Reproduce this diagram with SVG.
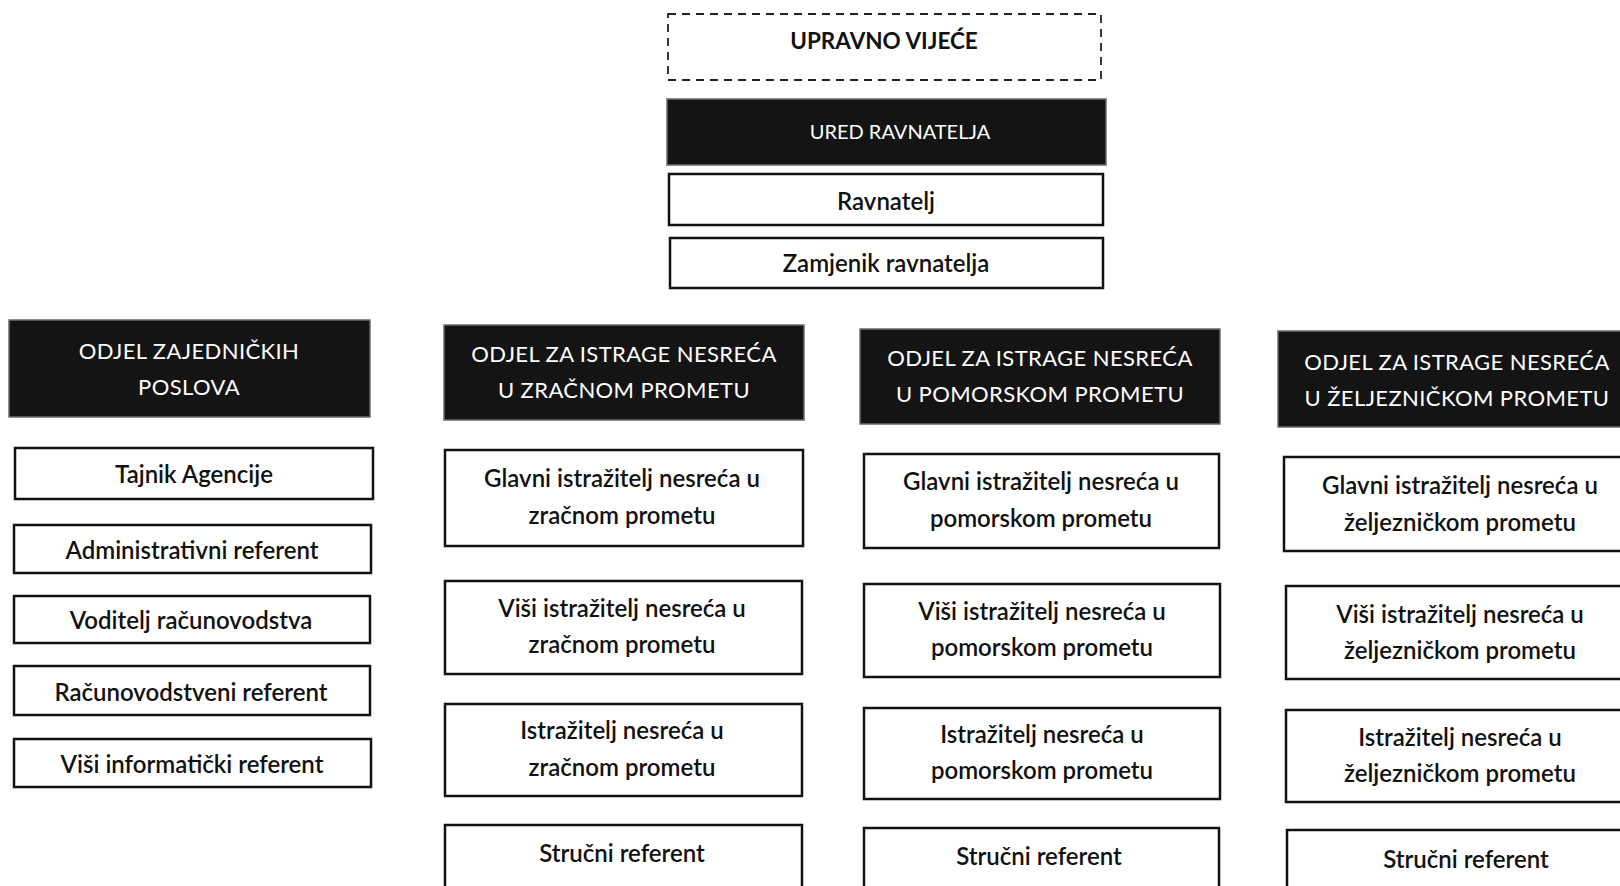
<svg xmlns="http://www.w3.org/2000/svg" width="1620" height="886" viewBox="0 0 1620 886">
<style>
  .box { fill: #fff; stroke: #111; stroke-width: 2.5; }
  .hdr { fill: #141414; stroke: #6a6a6a; stroke-width: 1.5; }
  .dash { fill: #fff; stroke: #222; stroke-width: 1.8; stroke-dasharray: 8 6; }
  .t { font-family: Lato, "Liberation Sans", sans-serif; font-size: 24px; fill: #111; text-anchor: middle; font-weight: 600; }
  .h { font-family: Lato, "Liberation Sans", sans-serif; font-size: 22px; fill: #fff; text-anchor: middle; font-weight: 400; letter-spacing: 0.4px; }
  .b { font-weight: 700; font-size: 22.5px; }
</style>
<rect width="1620" height="886" fill="#fff"/>
<g id="connectors"></g>

<g id="upravno-vijece">
  <rect class="dash" x="668" y="14" width="433" height="66"/>
  <text class="t b" x="884" y="49">UPRAVNO VIJEĆE</text>
</g>
<g id="ured-ravnatelja">
  <rect class="hdr" x="667" y="99" width="439" height="66"/>
  <text class="h" x="900" y="139" style="font-size:20px;letter-spacing:0">URED RAVNATELJA</text>
</g>
<g id="ravnatelj">
  <rect class="box" x="669" y="174" width="434" height="51"/>
  <text class="t" x="886" y="210">Ravnatelj</text>
</g>
<g id="zamjenik">
  <rect class="box" x="670" y="238" width="433" height="50"/>
  <text class="t" x="886" y="272">Zamjenik ravnatelja</text>
</g>

<!-- Column 1 -->
<g id="odjel-zajednickih">
  <rect class="hdr" x="9" y="320" width="361" height="97"/>
  <text class="h" x="189" y="359">ODJEL ZAJEDNIČKIH</text>
  <text class="h" x="189" y="395">POSLOVA</text>
</g>
<g id="tajnik"><rect class="box" x="15" y="448" width="358" height="51"/><text class="t" x="194" y="483">Tajnik Agencije</text></g>
<g id="administrativni"><rect class="box" x="14" y="525" width="357" height="48"/><text class="t" x="192" y="559">Administrativni referent</text></g>
<g id="voditelj"><rect class="box" x="14" y="596" width="356" height="47"/><text class="t" x="191" y="629">Voditelj računovodstva</text></g>
<g id="racunovodstveni"><rect class="box" x="14" y="666" width="356" height="49"/><text class="t" x="191" y="701">Računovodstveni referent</text></g>
<g id="visi-informaticki"><rect class="box" x="14" y="739" width="357" height="48"/><text class="t" x="192" y="773">Viši informatički referent</text></g>

<!-- Column 2 -->
<g id="odjel-zracni">
  <rect class="hdr" x="444" y="325" width="360" height="95"/>
  <text class="h" x="624" y="362">ODJEL ZA ISTRAGE NESREĆA</text>
  <text class="h" x="624" y="398">U ZRAČNOM PROMETU</text>
</g>
<g id="z-glavni"><rect class="box" x="445" y="450" width="358" height="96"/><text class="t" x="622" y="487">Glavni istražitelj nesreća u</text><text class="t" x="622" y="524">zračnom prometu</text></g>
<g id="z-visi"><rect class="box" x="445" y="581" width="357" height="93"/><text class="t" x="622" y="617">Viši istražitelj nesreća u</text><text class="t" x="622" y="653">zračnom prometu</text></g>
<g id="z-istrazitelj"><rect class="box" x="445" y="704" width="357" height="92"/><text class="t" x="622" y="739">Istražitelj nesreća u</text><text class="t" x="622" y="776">zračnom prometu</text></g>
<g id="z-strucni"><rect class="box" x="445" y="825" width="357" height="80"/><text class="t" x="622" y="862">Stručni referent</text></g>

<!-- Column 3 -->
<g id="odjel-pomorski">
  <rect class="hdr" x="860" y="329" width="360" height="95"/>
  <text class="h" x="1040" y="366">ODJEL ZA ISTRAGE NESREĆA</text>
  <text class="h" x="1040" y="402">U POMORSKOM PROMETU</text>
</g>
<g id="p-glavni"><rect class="box" x="864" y="454" width="355" height="94"/><text class="t" x="1041" y="490">Glavni istražitelj nesreća u</text><text class="t" x="1041" y="527">pomorskom prometu</text></g>
<g id="p-visi"><rect class="box" x="864" y="584" width="356" height="93"/><text class="t" x="1042" y="620">Viši istražitelj nesreća u</text><text class="t" x="1042" y="656">pomorskom prometu</text></g>
<g id="p-istrazitelj"><rect class="box" x="864" y="708" width="356" height="91"/><text class="t" x="1042" y="743">Istražitelj nesreća u</text><text class="t" x="1042" y="779">pomorskom prometu</text></g>
<g id="p-strucni"><rect class="box" x="864" y="828" width="355" height="80"/><text class="t" x="1039" y="865">Stručni referent</text></g>

<!-- Column 4 -->
<g id="odjel-zeljeznicki">
  <rect class="hdr" x="1278" y="331" width="360" height="96"/>
  <text class="h" x="1457" y="370">ODJEL ZA ISTRAGE NESREĆA</text>
  <text class="h" x="1457" y="406">U ŽELJEZNIČKOM PROMETU</text>
</g>
<g id="zj-glavni"><rect class="box" x="1284" y="457" width="352" height="94"/><text class="t" x="1460" y="494">Glavni istražitelj nesreća u</text><text class="t" x="1460" y="531">željezničkom prometu</text></g>
<g id="zj-visi"><rect class="box" x="1286" y="586" width="350" height="93"/><text class="t" x="1460" y="623">Viši istražitelj nesreća u</text><text class="t" x="1460" y="659">željezničkom prometu</text></g>
<g id="zj-istrazitelj"><rect class="box" x="1286" y="710" width="350" height="92"/><text class="t" x="1460" y="746">Istražitelj nesreća u</text><text class="t" x="1460" y="782">željezničkom prometu</text></g>
<g id="zj-strucni"><rect class="box" x="1287" y="830" width="350" height="80"/><text class="t" x="1466" y="868">Stručni referent</text></g>
</svg>
